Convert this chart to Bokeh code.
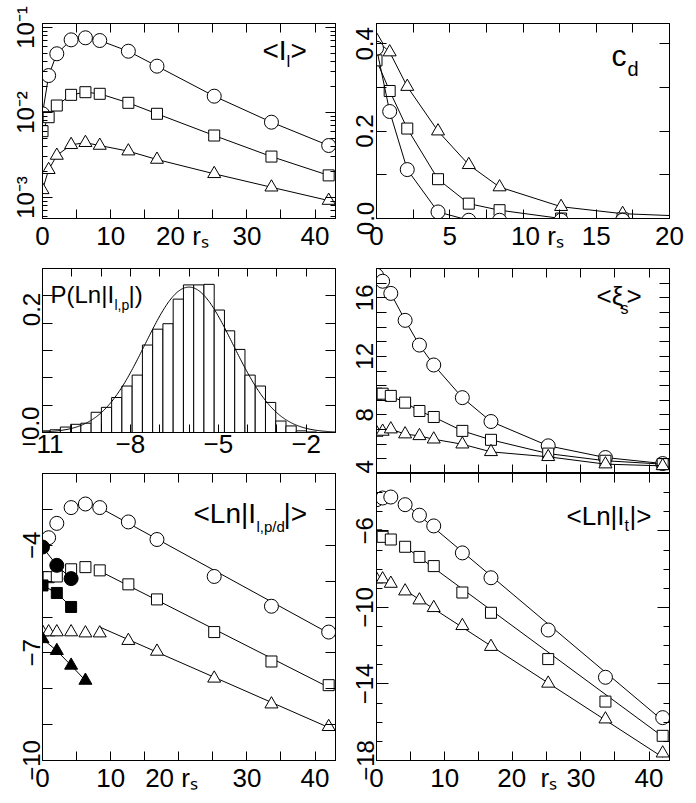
import math
import numpy as np
from bokeh.plotting import figure
from bokeh.models import Range1d, FixedTicker, LinearAxis, LogAxis, Label
from bokeh.layouts import row, column
from bokeh.embed import file_html
from bokeh.resources import INLINE

# ------------------------------------------------------------------ data
rs = [0.0, 0.9, 2.1, 4.2, 6.3, 8.4, 12.6, 16.8, 25.2, 33.6, 42.0]

# <I_l>  (log axis)
il_circ = [0.00966, 0.0272, 0.0491, 0.0716, 0.0757, 0.0703, 0.0526, 0.0351, 0.01556, 0.00769, 0.00409]
il_sq = [0.00603, 0.00881, 0.01208, 0.01614, 0.01734, 0.0166, 0.0130, 0.00966, 0.00536, 0.00303, 0.00182]
il_tri = [0.00123, 0.00212, 0.00312, 0.00417, 0.00441, 0.00409, 0.00351, 0.0028, 0.0019, 0.00132, 0.00092]

# c_d
cd_circ = [0.39, 0.245, 0.112, 0.015, -0.004, -0.004, -0.004, -0.004, -0.004, -0.004, -0.004]
cd_sq = [0.362, 0.292, 0.206, 0.090, 0.034, 0.019, 0.0, 0.0, 0.0, 0.0, 0.0]
cd_tri = [0.409, 0.381, 0.302, 0.200, 0.123, 0.072, 0.027, 0.011, 0.0, 0.0, 0.0]

# P(Ln|I_l,p|) histogram
hist_first_edge = -11.09
hist_bin_width = 0.35
hist_heights = [0.003, 0.005, 0.010, 0.015, 0.017, 0.037, 0.046, 0.064, 0.085, 0.105,
                0.160, 0.189, 0.199, 0.244, 0.270, 0.270, 0.271, 0.224, 0.186, 0.152,
                0.105, 0.085, 0.055, 0.021, 0.012, 0.003, 0.001]
gauss_mean = -6.0
gauss_sigma = 1.5

# <xi_s>
xi_circ = [17.54, 17.13, 16.30, 14.46, 12.77, 11.41, 9.18, 7.55, 5.89, 5.09, 4.68]
xi_sq = [9.45, 9.45, 9.30, 8.84, 8.27, 7.86, 6.91, 6.30, 5.36, 4.87, 4.64]
xi_tri = [6.80, 6.87, 7.03, 6.69, 6.57, 6.34, 6.00, 5.48, 5.14, 4.64, 4.52]

# <Ln|I_l,p/d|>
lpd_circ = [-3.86, -3.79, -3.39, -2.95, -2.85, -2.95, -3.35, -3.84, -4.87, -5.70, -6.42]
lpd_sq = [-4.89, -4.89, -4.87, -4.67, -4.61, -4.70, -5.09, -5.51, -6.42, -7.24, -7.90]
lpd_tri = [-6.42, -6.42, -6.42, -6.42, -6.45, -6.45, -6.66, -6.96, -7.71, -8.43, -9.06]
lpd_fit_x = [8.4, 42.0]
lpd_fit_circ = [-2.95, -6.45]
lpd_fit_sq = [-4.72, -7.96]
lpd_fit_tri = [-6.28, -9.08]
lpd_fill_x = [0.0, 2.1, 4.2]
lpd_fill_circ = [-4.05, -4.56, -4.93]
lpd_fill_sq = [-5.12, -5.33, -5.72]
lpd_fill_tri_x = [0.0, 2.1, 4.2, 6.3]
lpd_fill_tri = [-6.61, -6.94, -7.35, -7.77]

# <Ln|I_t|>
lt_circ = [-4.37, -4.28, -4.23, -4.63, -5.18, -5.74, -7.15, -8.45, -11.18, -13.65, -15.76]
lt_sq = [-6.23, -6.31, -6.45, -6.83, -7.36, -7.84, -9.22, -10.28, -12.70, -14.92, -16.71]
lt_tri = [-8.52, -8.52, -8.75, -9.15, -9.62, -10.02, -10.96, -12.05, -13.97, -15.84, -17.62]
lt_fit_x = [4.2, 42.0]
lt_fit_circ = [-4.57, -15.91]
lt_fit_sq = [-6.83, -16.75]
lt_fit_tri = [-9.10, -17.83]

# ticks and tick labels
NB = "\u00a0"
RS = "r\u209b"  # r_s
M = "\u2212"    # minus sign
rs_ticks = [0, 10, 20, 30, 40]
rs_minor = [5, 15, 25, 35]
il_ticks = [1e-3, 1e-2, 1e-1]
il_labels = {1e-3: "10\u207b\u00b3", 1e-2: "10\u207b\u00b2", 1e-1: "10\u207b\u00b9"}
il_minor = [6e-4, 7e-4, 8e-4, 9e-4] + [k * 1e-3 for k in range(2, 10)] + [k * 1e-2 for k in range(2, 10)]
cd_xticks = [0, 5, 10, 15, 20]
cd_xminor = [2.5, 7.5, 12.5, 17.5]
cd_yticks = [0.0, 0.2, 0.4]
cd_ylabels = {0.0: "0.0", 0.2: "0.2", 0.4: "0.4"}
cd_yminor = [0.1, 0.3]
h_xticks = [-11, -8, -5, -2]
h_xlabels = {-11: M + "11", -8: M + "8", -5: M + "5", -2: M + "2"}
h_xminor = [-10, -9, -7, -6, -4, -3]
h_yticks = [0.017, 0.225]          # label anchors, drawn slightly above the ticks as in the source
h_ylabels = {0.017: "0.0", 0.225: "0.2"}
h_yminor = [0.05, 0.1, 0.15, 0.2, 0.25]
xi_yticks = [4.45, 8, 12, 16]
xi_ylabels = {4.45: "4"}
xi_yminor = [5, 6, 7, 8, 9, 10, 11, 12, 13, 14, 15, 16, 17]
pd_yticks = [-10, -7, -4]
pd_ylabels = {-10: M + "10", -7: M + "7", -4: M + "4"}
pd_yminor = [-9, -8, -6, -5, -3, -2]
t_yticks = [-18, -14, -10, -6]
t_ylabels = {-18: M + "18", -14: M + "14", -10: M + "10", -6: M + "6"}
t_yminor = [-17, -16, -15, -13, -12, -11, -9, -8, -7, -5, -4]

FONT = "Liberation Sans"
FW = 293  # frame width of every panel
INFO = {}


# ------------------------------------------------------------------ helpers
def make_fig(w, h, bl, br, bt, bb, xr, yr, log=False):
    p = figure(width=w, height=h, x_range=xr, y_range=yr,
               y_axis_type="log" if log else "linear",
               output_backend="svg", toolbar_location=None,
               min_border_left=bl, min_border_right=br,
               min_border_top=bt, min_border_bottom=bb)
    p.xgrid.visible = False
    p.ygrid.visible = False
    p.outline_line_color = "black"
    p.background_fill_color = "white"
    p.border_fill_color = "white"
    INFO[id(p)] = (h - bt - bb, log)
    return p


def setup_axis(ax, ticks, minor, major_len, minor_len, show=True, size="26px",
               orient=None, overrides=None, standoff=2):
    ax.ticker = FixedTicker(ticks=ticks, minor_ticks=minor)
    ax.axis_line_color = "black"
    ax.major_tick_line_color = "black"
    ax.minor_tick_line_color = "black"
    ax.major_tick_in = major_len
    ax.major_tick_out = 0
    ax.minor_tick_in = minor_len
    ax.minor_tick_out = 0
    if show:
        ax.major_label_text_font = FONT
        ax.major_label_text_font_size = size
        ax.major_label_text_color = "black"
        ax.major_label_standoff = standoff
        if orient is not None:
            ax.major_label_orientation = orient
        if overrides:
            ax.major_label_overrides = overrides
    else:
        ax.major_label_text_font_size = "0px"
        ax.major_label_text_color = None
        ax.major_label_standoff = 0


def axes(p, xt, xm, yt, ym, x_len=(9, 9), y_len=(10, 10), log=False,
         x_show=True, x_over=None, y_over=None):
    setup_axis(p.xaxis[0], xt, xm, *x_len, show=x_show, size="26px", overrides=x_over)
    setup_axis(p.yaxis[0], yt, ym, *y_len, show=True, size="24px",
               orient="parallel", overrides=y_over, standoff=3)
    top = LinearAxis()
    setup_axis(top, xt, xm, *x_len, show=False)
    p.add_layout(top, "above")
    right = LogAxis() if log else LinearAxis()
    setup_axis(right, yt, ym, *y_len, show=False)
    p.add_layout(right, "right")


def txt(p, sx, sy, s, size):
    """Text inside the frame; sx, sy: pixel offsets of the baseline start
    from the frame's lower-left corner, turned into the panel's data coordinates."""
    fh, logy = INFO[id(p)]
    x0, x1 = p.x_range.start, p.x_range.end
    y0, y1 = p.y_range.start, p.y_range.end
    sy = sy - 0.21 * size
    x = x0 + (x1 - x0) * sx / FW
    if logy:
        ly0, ly1 = math.log10(y0), math.log10(y1)
        y = 10 ** (ly0 + (ly1 - ly0) * sy / fh)
    else:
        y = y0 + (y1 - y0) * sy / fh
    p.add_layout(Label(x=x, y=y, text=s,
                       text_font=FONT, text_font_size=f"{size}px", text_color="black",
                       text_align="left", text_baseline="bottom"))


def series(p, x, y, marker, size, line=True, fill="white"):
    if line:
        p.line(x, y, line_color="black", line_width=1)
    p.scatter(x, y, marker=marker, size=size, fill_color=fill,
              line_color="black", line_width=1)


CS, SS, TS = 14, 11, 13

# ------------------------------------------------------------------ top-left <I_l>
tl = make_fig(345, 262, 42, 10, 23, 44, Range1d(0, 43), Range1d(5.66e-4, 0.1115), log=True)
axes(tl, rs_ticks, rs_minor, il_ticks, il_minor, y_len=(10, 5), log=True,
     x_over={20: NB + "20 " + RS}, y_over=il_labels)
series(tl, rs, il_circ, "circle", CS)
series(tl, rs, il_sq, "square", SS)
series(tl, rs, il_tri, "triangle", TS)
txt(tl, 220, 158, "<I", 28)
txt(tl, 244, 151, "l", 17)
txt(tl, 248, 158, ">", 28)

# ------------------------------------------------------------------ top-right c_d
tr = make_fig(350, 262, 31, 26, 23, 44, Range1d(0, 20), Range1d(0, 0.4465))
axes(tr, cd_xticks, cd_xminor, cd_yticks, cd_yminor,
     x_over={10: NB * 4 + "10 " + RS}, y_over=cd_ylabels)
series(tr, rs, cd_tri, "triangle", TS)
series(tr, rs, cd_sq, "square", SS)
series(tr, rs, cd_circ, "circle", CS)
txt(tr, 235, 153, "c", 30)
txt(tr, 251, 143, "d", 20)

# ------------------------------------------------------------------ middle-left histogram
ml = make_fig(345, 208, 42, 10, 6, 38, Range1d(-11, -1), Range1d(0, 0.3))
axes(ml, h_xticks, h_xminor, h_yticks, h_yminor, x_len=(8, 8), y_len=(0, 10),
     x_over=h_xlabels, y_over=h_ylabels)
h_left = [hist_first_edge + i * hist_bin_width for i in range(len(hist_heights))]
h_right = [v + hist_bin_width for v in h_left]
ml.quad(left=h_left, right=h_right, top=hist_heights, bottom=0,
        fill_color="white", line_color="black", line_width=1)
gx = np.linspace(-11, -1, 300)
gy = np.exp(-0.5 * ((gx - gauss_mean) / gauss_sigma) ** 2) / (gauss_sigma * math.sqrt(2 * math.pi))
ml.line(gx, gy, line_color="black", line_width=1)
txt(ml, 8, 130, "P(Ln|I", 24)
txt(ml, 72, 122, "l,p", 14)
txt(ml, 86, 130, "|)", 24)

# ------------------------------------------------------------------ middle-right <xi_s>
mr = make_fig(350, 211, 31, 26, 6, 0, Range1d(0, 43), Range1d(4, 18))
axes(mr, rs_ticks, rs_minor, xi_yticks, xi_yminor, y_len=(0, 10), x_show=False,
     y_over=xi_ylabels)
series(mr, rs, xi_circ, "circle", CS)
series(mr, rs, xi_sq, "square", SS)
series(mr, rs, xi_tri, "triangle", TS)
txt(mr, 220, 168, "<\u03be", 26)
txt(mr, 244, 160, "s", 16)
txt(mr, 250, 168, ">", 26)

# ------------------------------------------------------------------ bottom-left <Ln|I_l,p/d|>
bl = make_fig(345, 332, 42, 10, 3, 42, Range1d(0, 43), Range1d(-10, -2))
axes(bl, rs_ticks, rs_minor, pd_yticks, pd_yminor, x_over={20: "20 " + RS + NB * 2},
     y_over=pd_ylabels)
for fy in (lpd_fit_circ, lpd_fit_sq, lpd_fit_tri):
    bl.line(lpd_fit_x, fy, line_color="black", line_width=1)
series(bl, rs, lpd_circ, "circle", CS, line=False)
series(bl, rs, lpd_sq, "square", SS, line=False)
series(bl, rs, lpd_tri, "triangle", TS, line=False)
series(bl, lpd_fill_x, lpd_fill_circ, "circle", CS, fill="black")
series(bl, lpd_fill_x, lpd_fill_sq, "square", SS, fill="black")
series(bl, lpd_fill_tri_x, lpd_fill_tri, "triangle", TS, fill="black")
txt(bl, 151, 237, "<Ln|I", 28)
txt(bl, 214, 229, "l,p/d", 15)
txt(bl, 241, 237, "|>", 28)

# ------------------------------------------------------------------ bottom-right <Ln|I_t|>
br = make_fig(350, 329, 31, 26, 0, 42, Range1d(0, 43), Range1d(-18, -3))
axes(br, rs_ticks, rs_minor, t_yticks, t_yminor, y_len=(12, 6),
     x_over={20: NB * 4 + "20" + NB * 2 + RS}, y_over=t_ylabels)
for fy in (lt_fit_circ, lt_fit_sq, lt_fit_tri):
    br.line(lt_fit_x, fy, line_color="black", line_width=1)
series(br, rs, lt_circ, "circle", CS, line=False)
series(br, rs, lt_sq, "square", SS, line=False)
series(br, rs, lt_tri, "triangle", TS, line=False)
txt(br, 190, 235, "<Ln|I", 26)
txt(br, 248, 230, "t", 16)
txt(br, 253, 235, "|>", 26)

layout = row(column(tl, ml, bl), column(tr, mr, br))
open("out.html", "w").write(file_html(layout, INLINE))
